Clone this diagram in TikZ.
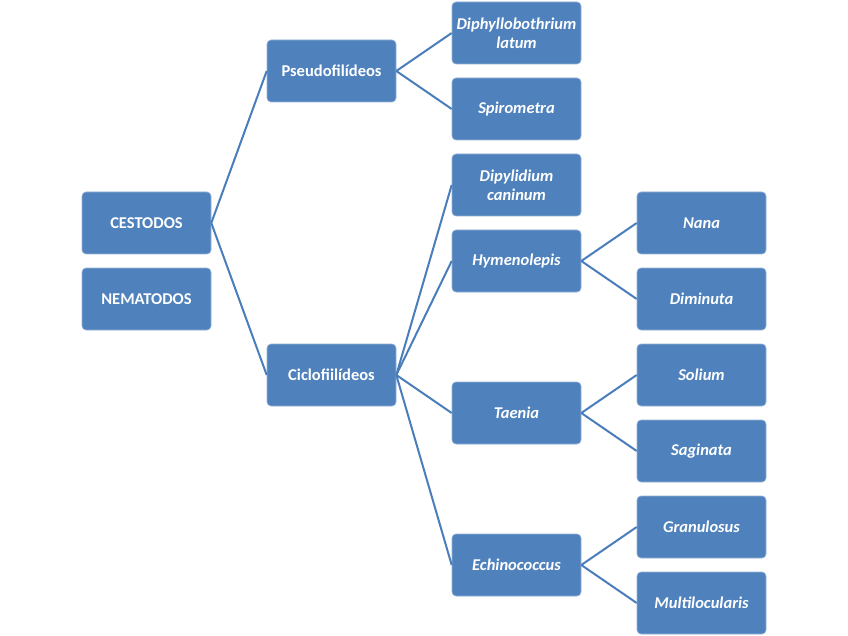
\documentclass[tikz,border=0pt]{standalone}
\usepackage{fontspec}
\setmainfont{Carlito}
\definecolor{boxblue}{HTML}{4F81BD}
\definecolor{linkblue}{HTML}{4A7EBB}
\begin{document}
\begin{tikzpicture}[x=1pt,y=-1pt,
  box/.style={draw=boxblue!60!white, line width=0.6pt, fill=boxblue, rounded corners=4pt,
    minimum width=129pt, minimum height=62pt, inner sep=2pt, text=white,
    font=\fontsize{16.5}{19}\selectfont\bfseries, align=center, text width=125pt},
  sp/.style={box, font=\fontsize{16.5}{19}\selectfont\bfseries\itshape},
  link/.style={draw=linkblue, line width=2pt}]
\useasboundingbox (0,0) rectangle (848,636);
\fill[white] (0,0) rectangle (848,636);
\node[box] (ces) at (146.5,223) {CESTODOS};
\node[box] (nem) at (146.5,299) {NEMATODOS};
\node[box] (pse) at (331.5,71) {Pseudofilídeos};
\node[box] (cic) at (331.5,375) {Ciclofiilídeos};
\node[sp] (dip) at (516.5,33) {Diphyllobothrium\\latum};
\node[sp] (spi) at (516.5,109) {Spirometra};
\node[sp] (dpy) at (516.5,185) {Dipylidium\\caninum};
\node[sp] (hym) at (516.5,261) {Hymenolepis};
\node[sp] (tae) at (516.5,413) {Taenia};
\node[sp] (ech) at (516.5,565) {Echinococcus};
\node[sp] (nan) at (701.5,223) {Nana};
\node[sp] (dim) at (701.5,299) {Diminuta};
\node[sp] (sol) at (701.5,375) {Solium};
\node[sp] (sag) at (701.5,451) {Saginata};
\node[sp] (gra) at (701.5,527) {Granulosus};
\node[sp] (mul) at (701.5,603) {Multilocularis};
\foreach \a/\b in {ces/pse,ces/cic,pse/dip,pse/spi,cic/dpy,cic/hym,cic/tae,cic/ech,
  hym/nan,hym/dim,tae/sol,tae/sag,ech/gra,ech/mul}
  \draw[link] (\a.east) -- (\b.west);
\end{tikzpicture}
\end{document}
